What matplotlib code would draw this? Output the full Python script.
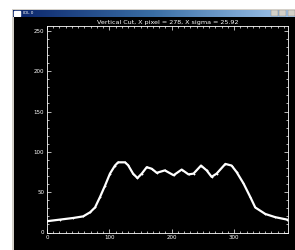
import numpy as np
import matplotlib
matplotlib.use("Agg")
import matplotlib.pyplot as plt
from matplotlib.ticker import MultipleLocator
from matplotlib.colors import LinearSegmentedColormap

# Data
x_pix = [0, 21, 42, 58, 69, 77, 85, 93, 101, 109, 114, 125, 130, 138, 145, 152, 160,
         168, 176, 189, 203, 216, 227, 235, 247, 256, 264, 272, 286, 296, 304, 315,
         326, 334, 350, 366, 385]
counts = [14, 16, 18, 20, 25, 31, 44, 58, 73, 83, 87, 87, 83.5, 73, 67.5, 73, 81,
          79, 74, 77, 71, 78, 72, 73, 83, 77, 69, 73, 85, 83, 75, 61,
          44, 31, 23, 19, 16]
title_text = "Vertical Cut, X pixel = 278, X sigma = 25.92"
window_name = "IDL 0"
x_major = [0, 100, 200, 300]
y_major = [0, 50, 100, 150, 200, 250]

W, H = 295, 250
fig = plt.figure(figsize=(W / 100, H / 100), dpi=100)
fig.patch.set_facecolor("white")

def rect(x0, y0, x1, y1):
    return [x0 / W, 1 - y1 / H, (x1 - x0) / W, (y1 - y0) / H]

# window frame
frame = fig.add_axes(rect(12, 9, 295, 250))
frame.set_facecolor("#d4d0c8")
frame.set_xticks([]); frame.set_yticks([])
for s in frame.spines.values():
    s.set_visible(False)

# black canvas
canvas = fig.add_axes(rect(13.5, 17, 295, 250))
canvas.set_facecolor("black")
canvas.set_xticks([]); canvas.set_yticks([])
for s in canvas.spines.values():
    s.set_visible(False)

# title bar gradient
tb = fig.add_axes(rect(13, 9.5, 295, 17))
cmap = LinearSegmentedColormap.from_list("tb", ["#0a246a", "#3a6ea5", "#a6caf0"])
tb.imshow(np.linspace(0, 1, 256)[None, :], aspect="auto", cmap=cmap, extent=[0, 1, 0, 1])
tb.set_xlim(0, 1); tb.set_ylim(0, 1)
tb.set_xticks([]); tb.set_yticks([])
for s in tb.spines.values():
    s.set_visible(False)
tb.add_patch(plt.Rectangle((0.005, 0.15), 0.02, 0.7, color="white"))
tb.text(0.035, 0.5, window_name, color="white", fontsize=3, va="center", ha="left")
for i, bx in enumerate([0.915, 0.945, 0.975]):
    tb.add_patch(plt.Rectangle((bx, 0.12), 0.024, 0.76, facecolor="#d4d0c8",
                               edgecolor="#808080", lw=0.3))

# plot axes
ax = fig.add_axes(rect(47, 26, 287.7, 232.5))
ax.set_facecolor("black")
ax.plot(x_pix, counts, color="white", lw=1.6, marker="+", ms=2, mew=0.6)
ax.set_xlim(0, 386)
ax.set_ylim(0, 256)
ax.set_xticks(x_major)
ax.set_yticks(y_major)
ax.xaxis.set_minor_locator(MultipleLocator(10))
ax.yaxis.set_minor_locator(MultipleLocator(10))
for s in ax.spines.values():
    s.set_color("white"); s.set_linewidth(0.6)
ax.tick_params(which="both", direction="in", colors="white", top=True, right=True,
               width=0.5, labelsize=4, pad=2)
ax.tick_params(which="major", length=3)
ax.tick_params(which="minor", length=1.5)
ax.set_title(title_text, color="white", fontsize=4.6, pad=1.5)

fig.savefig("out.png", dpi=100, facecolor="white")
